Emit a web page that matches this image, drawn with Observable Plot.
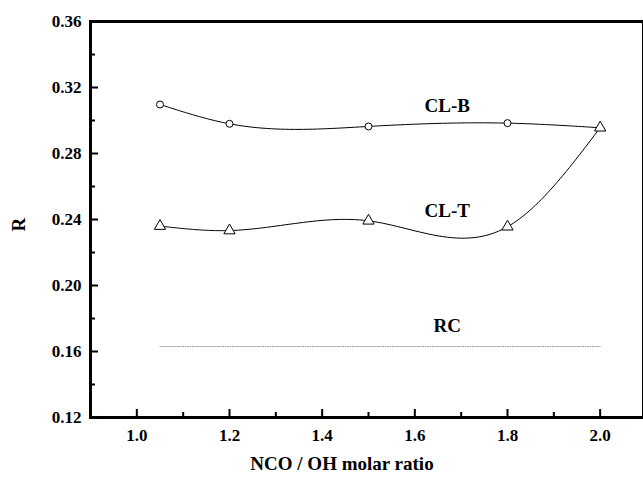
<!DOCTYPE html>
<html>
<head>
<meta charset="utf-8">
<script src="https://cdn.jsdelivr.net/npm/d3@7"></script>
<script src="https://cdn.jsdelivr.net/npm/@observablehq/plot@0.6"></script>
<style>
  html, body { margin: 0; padding: 0; background: #fff; }
  svg { display: block; }
</style>
</head>
<body>
<div id="chart"></div>
<script>
// Data
const ratios = [1.05, 1.2, 1.5, 1.8, 2.0];
const clB = [0.3097, 0.298, 0.2964, 0.2984, 0.2956];
const clT = [0.236, 0.2333, 0.2392, 0.2356, 0.2956];
const rcX = [1.05, 2.0];
const rcY = [0.163, 0.163];
const xMajor = [1.0, 1.2, 1.4, 1.6, 1.8, 2.0];
const xMinor = [1.1, 1.3, 1.5, 1.7, 1.9];
const yMajor = [0.12, 0.16, 0.20, 0.24, 0.28, 0.32, 0.36];
const yMinor = [0.14, 0.18, 0.22, 0.26, 0.30, 0.34];
const seriesLabels = [
  {name: "CL-B", x: 1.67, y: 0.309},
  {name: "CL-T", x: 1.67, y: 0.2455},
  {name: "RC", x: 1.67, y: 0.1755}
];

const B = ratios.map((x, i) => ({x, y: clB[i]}));
const T = ratios.map((x, i) => ({x, y: clT[i]}));
const RC = rcX.map((x, i) => ({x, y: rcY[i]}));

// natural cubic spline y(x) curve factory (like Origin's spline connector)
function splineX(context) {
  let xs, ys;
  return {
    areaStart() {}, areaEnd() {},
    lineStart() { xs = []; ys = []; },
    point(x, y) { xs.push(+x); ys.push(+y); },
    lineEnd() {
      const n = xs.length;
      if (!n) return;
      context.moveTo(xs[0], ys[0]);
      if (n < 3) { for (let i = 1; i < n; i++) context.lineTo(xs[i], ys[i]); return; }
      const h = [];
      for (let i = 0; i < n - 1; i++) h.push(xs[i + 1] - xs[i]);
      const a = new Array(n).fill(0), b = new Array(n).fill(1), c = new Array(n).fill(0), r = new Array(n).fill(0);
      for (let i = 1; i < n - 1; i++) {
        a[i] = h[i - 1]; b[i] = 2 * (h[i - 1] + h[i]); c[i] = h[i];
        r[i] = 6 * ((ys[i + 1] - ys[i]) / h[i] - (ys[i] - ys[i - 1]) / h[i - 1]);
      }
      // Thomas algorithm
      const cp = new Array(n).fill(0), rp = new Array(n).fill(0);
      cp[0] = c[0] / b[0]; rp[0] = r[0] / b[0];
      for (let i = 1; i < n; i++) {
        const m = b[i] - a[i] * cp[i - 1];
        cp[i] = c[i] / m; rp[i] = (r[i] - a[i] * rp[i - 1]) / m;
      }
      const M = new Array(n).fill(0);
      M[n - 1] = rp[n - 1];
      for (let i = n - 2; i >= 0; i--) M[i] = rp[i] - cp[i] * M[i + 1];
      const steps = 30;
      for (let i = 0; i < n - 1; i++) {
        const hi = h[i];
        for (let s = 1; s <= steps; s++) {
          const x = xs[i] + hi * s / steps;
          const t = x - xs[i], u = xs[i + 1] - x;
          const y = M[i] * u * u * u / (6 * hi) + M[i + 1] * t * t * t / (6 * hi)
            + (ys[i] / hi - M[i] * hi / 6) * u + (ys[i + 1] / hi - M[i + 1] * hi / 6) * t;
          context.lineTo(x, y);
        }
      }
    }
  };
}

const font = "'Liberation Serif', 'Times New Roman', serif";

const chart = Plot.plot({
  width: 643,
  height: 478,
  marginLeft: 90,
  marginTop: 21,
  marginBottom: 61,
  marginRight: 0,
  style: {fontFamily: font, fontWeight: "bold", fontSize: "17px", color: "#000", background: "#fff"},
  x: {domain: [0.9, 2.1], range: [90, 646]},
  y: {domain: [0.12, 0.36]},
  marks: [
    Plot.line(RC, {x: "x", y: "y", stroke: "#999", strokeWidth: 1, strokeDasharray: "1,1.5"}),
    Plot.line(B, {x: "x", y: "y", curve: splineX, stroke: "#000", strokeWidth: 1}),
    Plot.line(T, {x: "x", y: "y", curve: splineX, stroke: "#000", strokeWidth: 1}),
    Plot.dot(B.filter(d => d.x < 2.0), {x: "x", y: "y", r: 3.5, fill: "#fff", stroke: "#000", strokeWidth: 1}),
    Plot.dot(T, {x: "x", y: "y", symbol: "triangle", r: 4.2, fill: "#fff", stroke: "#000", strokeWidth: 1}),
    Plot.text(seriesLabels, {x: "x", y: "y", text: "name", fontSize: 19, fontWeight: "bold", fill: "#000"}),
    Plot.axisX({ticks: xMajor, tickFormat: d3.format(".1f"), tickSize: -8, tickPadding: 19, strokeWidth: 2, label: null, fontSize: 17}),
    Plot.axisX({ticks: xMinor, tickFormat: null, text: null, tickSize: -5, strokeWidth: 2, label: null}),
    Plot.axisY({ticks: yMajor, tickFormat: d3.format(".2f"), tickSize: -8, tickPadding: 17, strokeWidth: 2, label: null, fontSize: 17}),
    Plot.axisY({ticks: yMinor, tickFormat: null, text: null, tickSize: -5, strokeWidth: 2, label: null}),
    Plot.frame({stroke: "#000", strokeWidth: 3}),
    Plot.text(["NCO / OH molar ratio"], {frameAnchor: "bottom", dy: 52, dx: -25, fontSize: 19, fontWeight: "bold", fill: "#000"}),
    Plot.text(["R"], {frameAnchor: "left", dx: -72, dy: 12, rotate: -90, fontSize: 19, fontWeight: "bold", fill: "#000"})
  ]
});
document.getElementById("chart").appendChild(chart);
</script>
</body>
</html>
